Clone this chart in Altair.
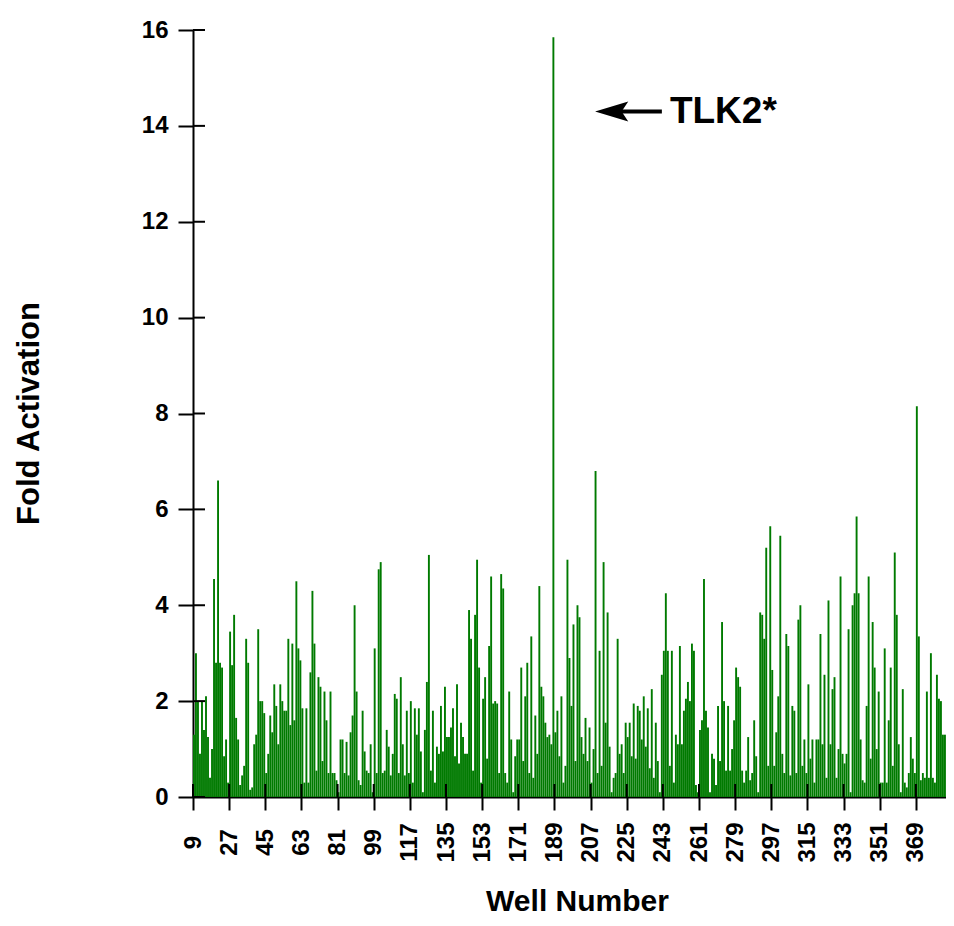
import altair as alt
import pandas as pd

# Fold activation per well (wells 9..383)
values = [
    # 9-42
    1.3, 3.0, 2.0, 0.9, 2.0, 1.4, 2.1, 1.25, 0.4, 1.0, 4.55, 2.8, 6.6, 2.8, 2.7, 0.85, 1.2, 0.3, 3.45, 2.75,
    3.8, 1.65, 1.2, 0.25, 0.45, 0.65, 3.3, 2.8, 0.15, 0.2, 1.1, 1.3, 3.5, 2.0,
    # 43-80
    2.0, 1.75, 0.5, 0.9, 1.7, 1.35, 2.35, 1.9, 1.1, 2.35, 2.0, 1.8, 1.8, 3.3, 1.5, 3.2, 1.6, 4.5, 3.1, 2.85,
    1.85, 0.3, 1.85, 0.3, 2.6, 4.3, 3.2, 0.55, 2.5, 2.3, 0.75, 2.2, 1.6, 0.5, 2.2, 0.5, 0.5, 0.35,
    # 81-118
    0.1, 1.2, 1.2, 0.5, 1.15, 0.45, 1.35, 1.7, 4.0, 2.2, 0.35, 0.25, 1.8, 0.95, 0.55, 0.5, 1.1, 0.1, 3.1, 0.5,
    4.75, 4.9, 0.5, 0.55, 1.4, 1.05, 0.45, 0.9, 2.15, 2.05, 0.5, 2.5, 1.1, 0.45, 1.8, 0.5, 2.0, 0.3,
    # 119-157
    1.85, 1.3, 1.85, 0.95, 0.1, 1.4, 2.4, 5.05, 0.55, 1.8, 0.3, 1.05, 0.9, 1.9, 0.95, 2.3, 1.25, 1.25, 1.45, 1.85,
    0.85, 2.35, 0.7, 1.55, 1.25, 0.9, 0.9, 3.9, 3.3, 0.55, 3.8, 4.95, 2.7, 0.3, 2.05, 2.5, 0.8, 3.15, 4.6,
    # 158-194
    1.95, 2.0, 1.95, 0.5, 4.65, 4.35, 0.5, 0.3, 2.2, 1.2, 0.1, 0.85, 1.2, 1.2, 2.7, 0.75, 2.1, 2.8, 0.5, 3.35,
    0.4, 1.7, 0.9, 4.4, 2.3, 2.1, 1.55, 1.25, 1.3, 1.1, 15.85, 1.35, 1.8, 0.85, 2.1, 0.3, 0.65,
    # 195-233
    4.95, 2.9, 1.9, 3.6, 0.75, 4.0, 3.75, 1.25, 0.9, 1.65, 0.75, 1.45, 0.3, 1.0, 6.8, 0.5, 3.05, 0.65, 4.9, 1.55,
    3.85, 1.05, 0.1, 0.4, 0.5, 3.3, 0.9, 1.1, 0.5, 1.55, 1.25, 1.55, 0.85, 1.95, 0.8, 1.9, 1.8, 1.2, 2.1,
    # 234-269
    1.05, 1.85, 0.6, 2.25, 0.4, 1.55, 0.75, 0.1, 2.55, 3.05, 4.25, 3.05, 0.65, 3.05, 0.3, 1.3, 1.1, 3.15, 1.1, 1.8,
    2.05, 2.4, 2.0, 3.2, 3.05, 0.25, 0.1, 1.4, 1.6, 4.55, 1.8, 1.45, 0.1, 0.9, 0.8, 0.25,
    # 270-307
    1.9, 0.75, 3.65, 2.0, 0.55, 1.9, 0.55, 1.0, 1.6, 2.7, 2.5, 2.3, 0.55, 0.3, 0.55, 1.25, 0.35, 0.5, 1.6, 0.85,
    0.1, 3.85, 3.8, 3.3, 5.2, 0.65, 5.65, 2.65, 0.65, 1.35, 2.1, 5.45, 0.9, 0.5, 3.4, 3.15, 0.45, 1.9,
    # 308-345
    1.8, 0.5, 3.7, 4.0, 0.65, 1.2, 0.5, 2.35, 0.8, 1.2, 0.3, 1.2, 1.2, 3.4, 1.1, 2.55, 0.4, 4.1, 1.1, 2.25,
    2.5, 0.4, 1.0, 4.6, 0.9, 0.7, 0.9, 3.5, 0.1, 4.0, 4.25, 5.85, 4.25, 1.2, 0.35, 0.3, 1.9, 4.6,
    # 346-383
    0.8, 3.65, 2.7, 1.0, 2.2, 0.3, 0.3, 3.1, 0.3, 1.6, 2.7, 0.65, 5.1, 3.8, 1.1, 0.1, 2.25, 0.3, 0.2, 0.5,
    1.25, 0.8, 0.5, 8.15, 3.35, 0.35, 0.5, 0.4, 2.2, 0.4, 3.0, 0.4, 0.3, 2.55, 2.05, 2.0, 1.3, 1.3,
]
first_well = 9
wells = list(range(first_well, first_well + len(values)))

x_ticks = list(range(9, 370, 18))
y_ticks = list(range(0, 17, 2))
x_domain = [9, 384]
y_domain = [0, 16]

# annotation (data units)
arrow_head_x = [217.5]
arrow_line_x = [217.5, 242.5]
arrow_y = [14.3]
label_x = [246.5]
label_text = ["TLK2*"]

W, H = 753, 767
FONT = "Liberation Sans"

df = pd.DataFrame({"well": wells, "fold": values})

xs = alt.Scale(domain=x_domain, nice=False, zero=False)
ys = alt.Scale(domain=y_domain, nice=False)

x_axis = alt.Axis(
    values=x_ticks, title="Well Number", labelAngle=270, labelAlign="center",
    labelBaseline="middle", labelPadding=32, labelFont=FONT, labelFontSize=24,
    labelFontWeight="bold", labelColor="black", tickSize=13, tickWidth=2,
    tickColor="black", domainColor="black", domainWidth=2, grid=False,
    titleFont=FONT, titleFontSize=30, titleFontWeight="bold", titleColor="black",
    titleX=384, titleY=104, titleBaseline="middle", titleAlign="center",
    labelFlush=False, labelOverlap=False)
y_axis = alt.Axis(
    values=y_ticks, format="d", title="Fold Activation", labelFont=FONT,
    labelFontSize=24, labelFontWeight="bold", labelColor="black", labelPadding=10,
    tickSize=15, tickWidth=2, tickColor="black", domainColor="black", domainWidth=2,
    grid=False, titleFont=FONT, titleFontSize=31, titleFontWeight="bold",
    titleColor="black", titleX=-164, titleY=383, titleAngle=270,
    titleBaseline="middle", titleAlign="center", labelFlush=False, labelOverlap=False)


def X(field):
    return alt.X(field, scale=xs, axis=x_axis)


def Y(field):
    return alt.Y(field, scale=ys, axis=y_axis)


bars = alt.Chart(df).transform_calculate(
    well_end="datum.well + 0.95"
).mark_bar(fill="#007a00", strokeWidth=0).encode(
    x=X("well:Q"),
    x2="well_end:Q",
    y=Y("fold:Q"),
    y2=alt.datum(0),
)

inner_y = alt.Chart(pd.DataFrame({"v": y_ticks})).mark_rule(color="black", strokeWidth=2).encode(
    y=Y("v:Q"),
    x=alt.value(0), x2=alt.value(12),
)
inner_x = alt.Chart(pd.DataFrame({"w": x_ticks})).mark_rule(color="black", strokeWidth=2).encode(
    x=X("w:Q"),
    y=alt.value(H - 13), y2=alt.value(H),
)

arrow_line = alt.Chart(pd.DataFrame({"x": arrow_line_x, "y": arrow_y * 2})).mark_line(
    color="black", strokeWidth=4).encode(
    x=X("x:Q"),
    y=Y("y:Q"),
)
arrow_head = alt.Chart(pd.DataFrame({"x": arrow_head_x, "y": arrow_y})).mark_point(
    shape="M -1 0 L 1 -0.6 L 0.6 0 L 1 0.6 Z", filled=True, fill="black",
    color="black", size=1100, opacity=1).encode(
    x=X("x:Q"),
    y=Y("y:Q"),
)
label = alt.Chart(pd.DataFrame({"x": label_x, "y": arrow_y, "t": label_text})).mark_text(
    align="left", baseline="middle", font=FONT, fontSize=37, fontWeight="bold",
    color="black", dy=1).encode(
    x=X("x:Q"),
    y=Y("y:Q"),
    text="t:N",
)

chart = alt.layer(bars, inner_y, inner_x, arrow_line, arrow_head, label).properties(
    width=W, height=H,
    autosize=alt.AutoSizeParams(type="none"),
    padding={"left": 185, "top": 22, "right": 0, "bottom": 121},
    background="white",
).configure_view(stroke=None)

chart.save("out.html", embed_options={"renderer": "svg", "actions": False})
